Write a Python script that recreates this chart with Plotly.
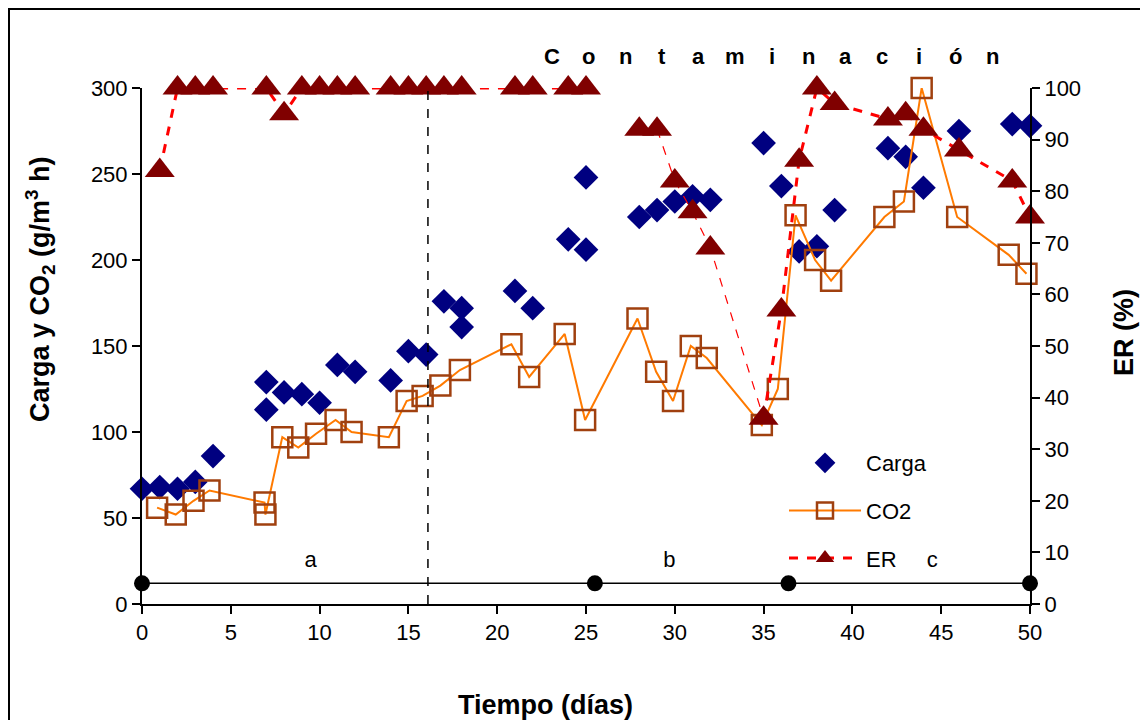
"""Carga, CO2 y ER frente al tiempo."""
import plotly.graph_objects as go

# ---- data ----------------------------------------------------------------------

carga_days = [0, 1, 2, 3, 4, 7, 7, 8, 9, 10, 11, 12, 14, 15, 16, 17, 18, 18, 21, 22,
              24, 25, 25, 28, 29, 30, 31, 32, 35, 36, 37, 38, 39, 42, 43, 44, 46, 49, 50]
carga_vals = [67, 68, 67, 71, 86, 113, 129, 123, 122, 117, 139, 135, 130, 147, 145, 176, 172, 161, 182, 172,
              212, 206, 248, 225, 229, 234, 237, 235, 268, 243, 205, 208, 229, 265, 260, 242, 275, 279, 278]

co2_days = [0.85, 1.9, 2.9, 3.8, 6.9, 6.95, 7.9, 8.8, 9.8, 10.9, 11.8, 13.9, 14.9, 15.8, 16.8, 17.9,
            20.8, 21.8, 23.8, 24.95, 27.9, 28.95, 29.9, 30.9, 31.8, 34.9, 35.8, 36.8, 37.9, 38.8,
            41.8, 42.9, 43.9, 45.9, 48.8, 49.8]
co2_vals = [56, 52, 60, 66, 59, 52, 97, 91, 99, 107, 100, 97, 118, 121, 127, 136,
            151, 132, 157, 107, 166, 135, 118, 150, 143, 104, 125, 226, 200, 188,
            225, 234, 300, 225, 203, 192]

er_days = [1, 2, 3, 4, 7, 8, 9, 10, 11, 12, 14, 15, 16, 17, 18, 21, 22, 24, 25,
           28, 29, 30, 31, 32, 35, 36, 37, 38, 39, 42, 43, 44, 46, 49, 50]
er_vals = [84, 100, 100, 100, 100, 95, 100, 100, 100, 100, 100, 100, 100, 100, 100, 100, 100, 100, 100,
           92, 92, 82, 76, 69, 36, 57, 86, 100, 97, 94, 95, 92, 88, 82, 75]

# etapas a, b, c
phase_days = [0, 25.5, 36.4, 50]
phase_level = 4
phase_labels = ["a", "b", "c"]
phase_label_days = [9.5, 29.7, 44.5]
contamination_day = 16.1
contamination_text = "Contaminación"

FONT = "Liberation Sans, Arial, sans-serif"

# ---- ER line pieces (gap 25->28, thin 29->35) -----------------------------------
i25, i28, i29, i35 = er_days.index(25), er_days.index(28), er_days.index(29), er_days.index(35)
er_thick_x = er_days[:i25 + 1] + [None] + er_days[i28:i29 + 1] + [None] + er_days[i35:]
er_thick_y = er_vals[:i25 + 1] + [None] + er_vals[i28:i29 + 1] + [None] + er_vals[i35:]
er_thin_x, er_thin_y = er_days[i29:i35 + 1], er_vals[i29:i35 + 1]
er_mid_x, er_mid_y = er_days[i29 + 1:i35], er_vals[i29 + 1:i35]

TRI = dict(symbol="triangle-up", size=26, color="#800000")

fig = go.Figure()
fig.add_trace(go.Scatter(
    x=carga_days, y=carga_vals, name="Carga", mode="markers", legendgroup="a",
    marker=dict(symbol="diamond", size=19, color="#000080"), cliponaxis=False,
))
fig.add_trace(go.Scatter(
    x=co2_days, y=co2_vals, name="CO2", mode="lines+markers", legendgroup="b",
    line=dict(color="#FF7A00", width=2),
    marker=dict(symbol="square-open", size=20, color="#A0400F", line=dict(width=2.5)),
    cliponaxis=False,
))
fig.add_trace(go.Scatter(
    x=er_thin_x, y=er_thin_y, yaxis="y2", mode="lines", showlegend=False,
    line=dict(color="#FF0000", width=1.2, dash="dash"), cliponaxis=False,
))
fig.add_trace(go.Scatter(
    x=er_thick_x, y=er_thick_y, yaxis="y2", name="ER", mode="lines+markers", legendgroup="c",
    line=dict(color="#FF0000", width=3, dash="dash"), marker=TRI, cliponaxis=False,
))
fig.add_trace(go.Scatter(
    x=er_mid_x, y=er_mid_y, yaxis="y2", mode="markers", showlegend=False,
    marker=TRI, cliponaxis=False,
))
fig.add_trace(go.Scatter(
    x=phase_days, y=[phase_level] * len(phase_days), yaxis="y2", mode="lines+markers",
    showlegend=False, line=dict(color="black", width=1.5),
    marker=dict(symbol="circle", size=16, color="black"), cliponaxis=False,
))
fig.add_trace(go.Scatter(
    x=phase_label_days, y=[phase_level + 4.2] * 3, yaxis="y2", mode="text",
    text=phase_labels, showlegend=False, textfont=dict(size=22, color="black", family=FONT),
    cliponaxis=False,
))

fig.add_vline(x=contamination_day, line=dict(color="black", width=1.5, dash="dash"))

axis_common = dict(
    showline=True, linecolor="black", linewidth=2, showgrid=False, zeroline=False,
    ticks="outside", ticklen=8, tickwidth=2, tickcolor="black",
    tickfont=dict(size=22, color="black", family=FONT),
)

# page has an 8px body margin, so the figure is offset 8px inside the window
fig.update_layout(
    width=1140, height=712,
    margin=dict(l=134, r=118, t=80, b=116),
    paper_bgcolor="white", plot_bgcolor="white",
    font=dict(family=FONT, color="black"),
    xaxis=dict(range=[0, 50], dtick=5, **axis_common),
    yaxis=dict(range=[0, 300], dtick=50, **axis_common),
    yaxis2=dict(range=[0, 100], dtick=10, overlaying="y", side="right", anchor="x", **axis_common),
    legend=dict(
        x=(784 - 142) / 888, y=(604 - 442) / 516, xanchor="left", yanchor="top",
        font=dict(size=22, color="black", family=FONT), bgcolor="rgba(0,0,0,0)",
        itemwidth=72, tracegroupgap=16,
    ),
    showlegend=True,
)


# titles (positions in page px, converted to paper units of the 888x516 plot area)
def px(x):
    return (x - 142) / 888


def py(y):
    return (604 - y) / 516


def label(x, y, text, size, angle=0):
    fig.add_annotation(x=px(x), y=py(y), xref="paper", yref="paper", text=text,
                       textangle=angle, showarrow=False, xanchor="center", yanchor="middle",
                       font=dict(size=size))


label(40, 289, "<b>Carga y CO<sub>2</sub> (g/m<sup>3</sup> h)</b>", 27, -90)
label(545, 705, "<b>Tiempo (días)</b>", 27)
label(1124, 333, "<b>ER (%)</b>", 27, -90)
# spaced-out heading, one letter at a time
for i, ch in enumerate(contamination_text):
    label(551.7 + 36.7 * i, 57, f"<b>{ch}</b>", 22)

# outer frame
fig.add_shape(type="rect", xref="paper", yref="paper",
              x0=px(9), x1=px(1170), y0=py(760), y1=py(9),
              line=dict(color="black", width=2))

fig.write_html("out.html")
